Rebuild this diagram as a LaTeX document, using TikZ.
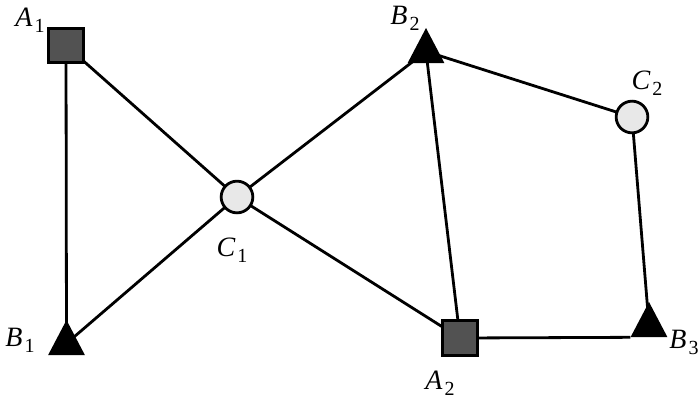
\documentclass[tikz,border=0pt]{standalone}
\usepackage{fontspec}
\setmainfont{Liberation Serif}
\usetikzlibrary{shapes.geometric,backgrounds}

% vertex label: italic letter with a lowered index
\newcommand{\vlabel}[2]{\textit{#1}\kern2pt\raisebox{-6pt}{\fontsize{20}{20}\selectfont #2}}

\tikzset{
  sqnode/.style={draw=black, fill=black!68, line width=3.4pt, minimum size=34.5pt, inner sep=0pt},
  circnode/.style={circle, draw=black, fill=black!9, line width=2.8pt, minimum size=31.7pt, inner sep=0pt},
  trinode/.style={regular polygon, regular polygon sides=3, fill=black, minimum size=42.5pt,
    inner sep=0pt, yscale=1.1, transform shape},
  vtext/.style={font=\fontsize{28}{28}\selectfont, inner sep=0pt},
  link/.style={line width=2.8pt}
}

\begin{document}
\begin{tikzpicture}[x=1pt,y=-1pt]
\useasboundingbox (0,0) rectangle (700,400);
% vertices
\node[sqnode] (A1) at (66,45.5) {};
\node[sqnode] (A2) at (460,338) {};
\node[trinode] (B1) at (66.5,343.4) {};
\node[trinode] (B2) at (426,51.4) {};
\node[trinode] (B3) at (649,325.4) {};
\node[circnode] (C1) at (237,197) {};
\node[circnode] (C2) at (632,117) {};
% labels
\node[vtext] (lA1) at (30,20) {\vlabel{A}{1}};
\node[vtext] (lA2) at (440,383) {\vlabel{A}{2}};
\node[vtext] (lB1) at (20,340) {\vlabel{B}{1}};
\node[vtext] (lB2) at (405,18) {\vlabel{B}{2}};
\node[vtext] (lB3) at (684,342) {\vlabel{B}{3}};
\node[vtext] (lC1) at (232,250) {\vlabel{C}{1}};
\node[vtext] (lC2) at (647,83) {\vlabel{C}{2}};
% edges
\begin{scope}[on background layer]
\draw[link] (A1.center) -- (B1.center);
\draw[link] (A1.center) -- (C1.center);
\draw[link] (C1.center) -- (B1.center);
\draw[link] (C1.center) -- (B2.center);
\draw[link] (C1.center) -- (A2.center);
\draw[link] (B2.center) -- (A2.center);
\draw[link] (B2.center) -- (C2.center);
\draw[link] (C2.center) -- (B3.center);
\draw[link] (A2.center) -- (B3.corner 2);
\end{scope}
\end{tikzpicture}
\end{document}
